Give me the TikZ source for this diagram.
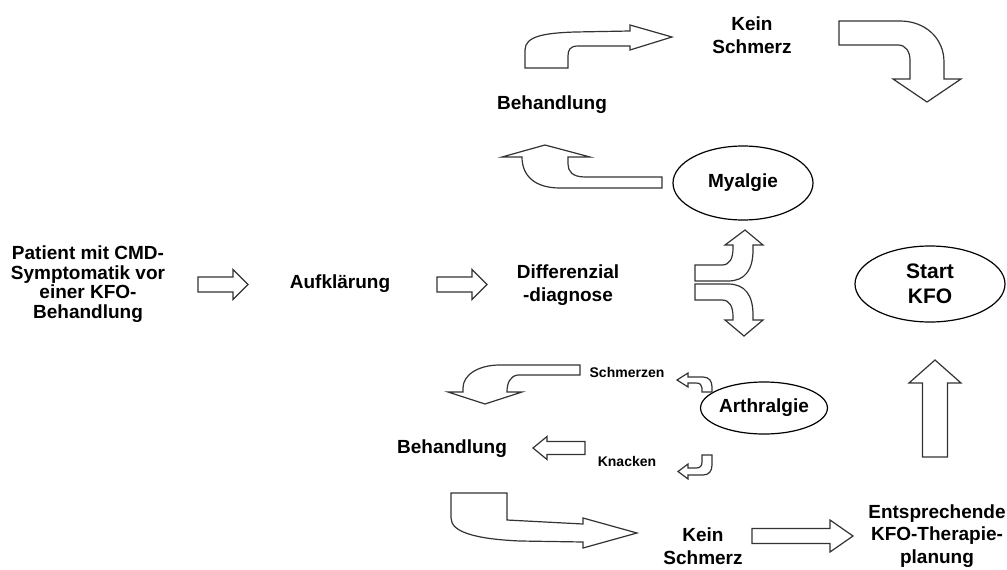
\documentclass[tikz,border=0pt]{standalone}
\usepackage{fontspec}
\setmainfont{Liberation Sans}
\usepackage{tikz}
\usetikzlibrary{shapes.geometric}

\tikzset{
  pics/blockarrow/.style n args={4}{code={
    \draw[barrow] (0,-#2) -- (#1-#4,-#2) -- (#1-#4,-#3) -- (#1,0)
      -- (#1-#4,#3) -- (#1-#4,#2) -- (0,#2) -- cycle;}}
}

\begin{document}
\begin{tikzpicture}[x=1pt, y=-1pt,
    lbl/.style={font=\bfseries\fontsize{19}{22.5}\selectfont, align=center, inner sep=0pt},
    small/.style={font=\bfseries\fontsize{14}{16}\selectfont, inner sep=0pt},
    oval/.style={draw, ellipse, line width=1.2pt, inner sep=0pt},
    barrow/.style={draw=black!80, fill=white, line width=1.2pt}]
  \useasboundingbox (0,0) rectangle (1007,570);

  \node[lbl, font=\bfseries\fontsize{19}{19.5}\selectfont] (patient) at (88,284)
        {Patient mit CMD-\\Symptomatik vor\\einer KFO-\\Behandlung};
  \node[lbl] (aufkl) at (340,284) {Aufklärung};
  \node[lbl] (diff) at (568,285) {Differenzial\\-diagnose};
  \node[lbl] (beh1) at (552,105) {Behandlung};
  \node[lbl] (kein1) at (752,35) {Kein\\Schmerz};
  \node[oval, lbl, minimum width=140pt, minimum height=74pt] (myalgie) at (743,183) {Myalgie};
  \node[oval, font=\bfseries\fontsize{21}{25}\selectfont, align=center,
        minimum width=150pt, minimum height=76pt] (start) at (930,284) {Start\\KFO};
  \node[oval, lbl, minimum width=126pt, minimum height=52pt] (arthr) at (764,408) {Arthralgie};
  \node[small] (schmerzen) at (627,372) {Schmerzen};
  \node[small] (knacken) at (627,461) {Knacken};
  \node[lbl] (beh2) at (452,449) {Behandlung};
  \node[lbl] (kein2) at (703,546) {Kein\\Schmerz};
  \node[lbl] (plan) at (937,536) {Entsprechende\\KFO-Therapie-\\planung};

  \pic at (198,284.5) {blockarrow={50}{7.5}{15}{15}};
  \pic at (437,284.5) {blockarrow={50}{7.5}{15}{15}};
  \pic[rotate=180] at (585,448) {blockarrow={52}{6.5}{11.5}{14}};
  \pic at (752,536) {blockarrow={101}{7.5}{16}{23}};
  \pic[rotate=90] at (935,457) {blockarrow={97}{12.5}{26}{23}};

  \draw[barrow] (525,68) -- (525,50) .. controls (525,36) and (545,33) .. (575,32)
    -- (630,31) -- (630,25) -- (672,37) -- (630,50) -- (630,46) -- (578,46)
    .. controls (570,46) and (568,50) .. (568,56) -- (568,68) -- cycle;
  \draw[barrow] (839,21) -- (900,21) .. controls (925,21) and (944,38) .. (944,62)
    -- (944,79) -- (961,79) -- (927,102) -- (893,79) -- (910,79) -- (910,60)
    .. controls (910,52) and (906,45) .. (898,45) -- (839,45) -- cycle;
  \draw[barrow] (662,177) -- (585,177) .. controls (572,177) and (568,171) .. (568,164)
    -- (568,157) -- (590,157) -- (545,145) -- (502,157) -- (522,157)
    .. controls (522,176) and (535,188) .. (560,188) -- (662,188) -- cycle;
  \draw[barrow] (695,265) -- (722,265) .. controls (730,265) and (733,258) .. (733,248)
    -- (733,245) -- (725,245) -- (745,230) -- (763,245) -- (753,245) -- (753,250)
    .. controls (753,270) and (745,281) .. (728,281) -- (695,281) -- cycle;
  \draw[barrow] (695,284) -- (728,284) .. controls (745,284) and (753,295) .. (753,315)
    -- (753,320) -- (763,320) -- (744,336) -- (725,320) -- (733,320) -- (733,317)
    .. controls (733,307) and (730,300) .. (722,300) -- (695,300) -- cycle;
  \draw[barrow] (580,365) -- (500,365) .. controls (478,365) and (463,375) .. (463,388)
    -- (463,392) -- (448,392) -- (485,404) -- (522,392) -- (507,392)
    .. controls (507,383) and (510,376) .. (518,375) -- (580,375) -- cycle;
  \draw[barrow] (702,392) -- (702,388) .. controls (702,385) and (700,383) .. (696,383)
    -- (688,383) -- (688,387) -- (677,380) -- (688,373) -- (688,377) -- (703,377)
    .. controls (709,377) and (712,381) .. (712,387) -- (712,392) -- cycle;
  \draw[barrow] (702,455) -- (702,462) .. controls (702,466) and (700,468) .. (696,468)
    -- (688,468) -- (688,464) -- (678,471.5) -- (688,479) -- (688,475) -- (703,475)
    .. controls (709,475) and (712,471) .. (712,465) -- (712,455) -- cycle;
  \draw[barrow] (451,493) -- (507,493) -- (507,520) -- (583,524) -- (583,518)
    -- (637,533) -- (583,548) -- (583,542) -- (520,541)
    .. controls (475,539) and (451,532) .. (451,518) -- cycle;
\end{tikzpicture}
\end{document}
